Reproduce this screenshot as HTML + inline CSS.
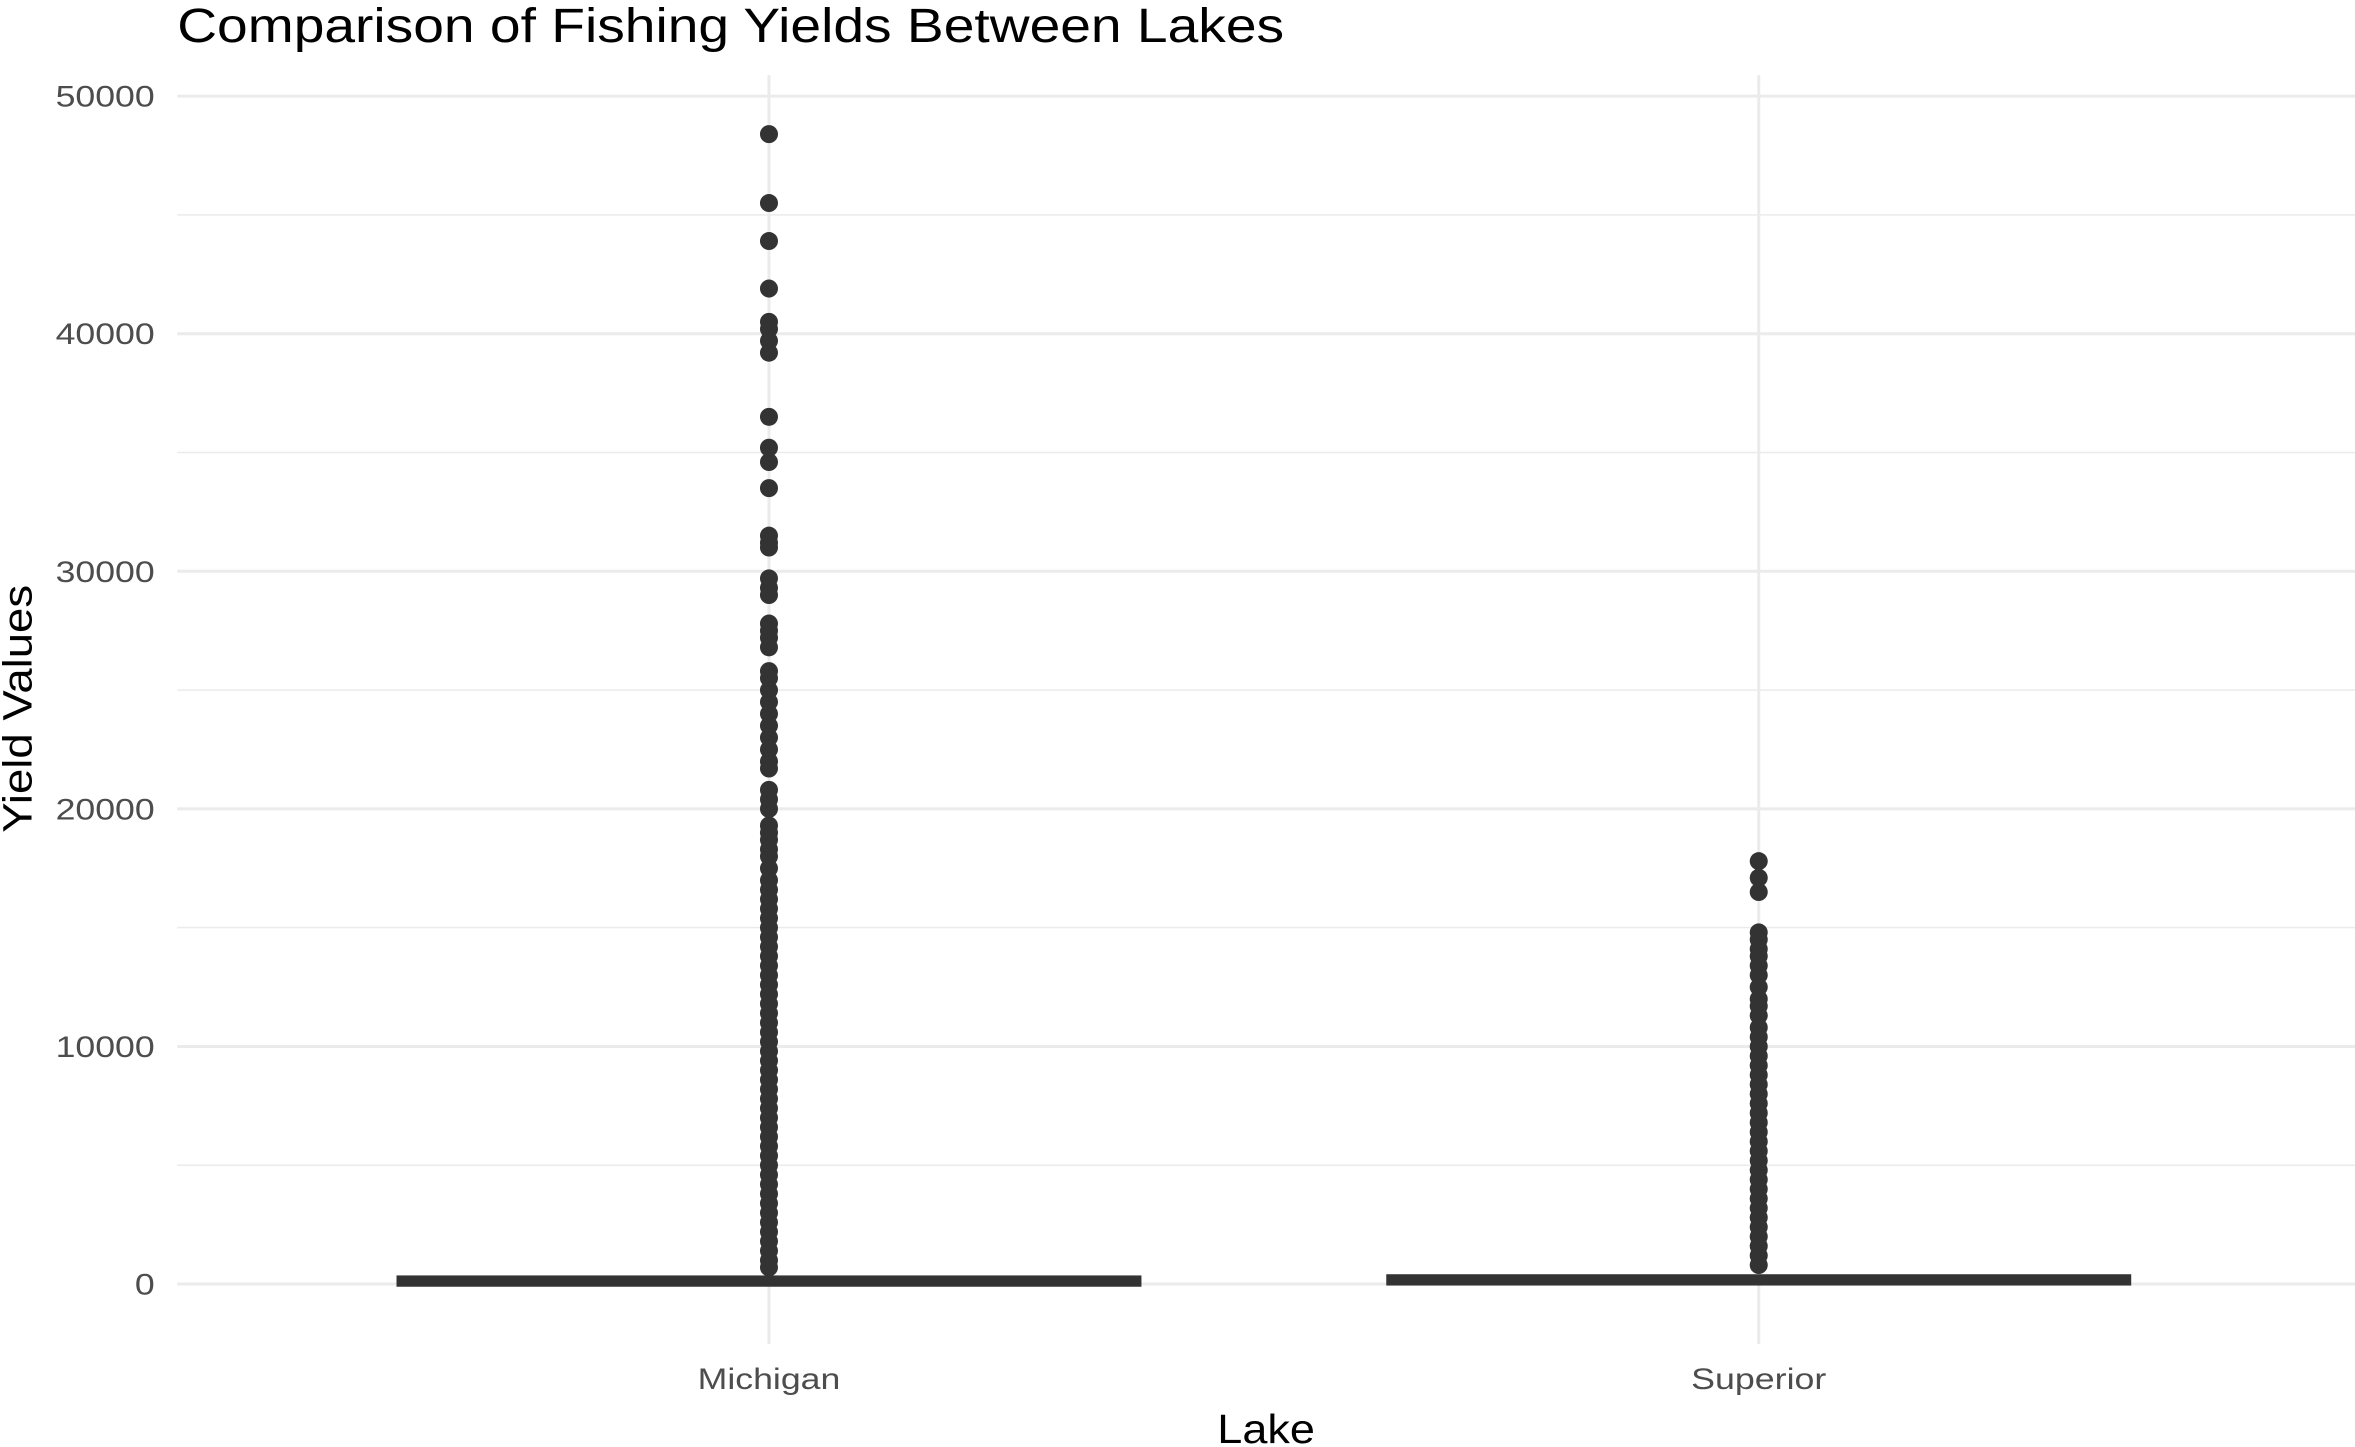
<!DOCTYPE html>
<html><head><meta charset="utf-8"><style>
html,body{margin:0;padding:0;background:#fff;}
svg{display:block;font-family:"Liberation Sans",sans-serif;}
</style></head><body>
<svg id="chart" width="2355" height="1447" viewBox="0 0 1568 963.5" preserveAspectRatio="none" xmlns="http://www.w3.org/2000/svg">
<text x="118" y="28" font-size="32" fill="#000" textLength="737" lengthAdjust="spacingAndGlyphs">Comparison of Fishing Yields Between Lakes</text>
<g id="grid"></g>
<g id="yticks"></g>
<g id="xticks"></g>
<g id="marks"></g>
<text x="843" y="961" font-size="27" text-anchor="middle" fill="#000" textLength="65" lengthAdjust="spacingAndGlyphs">Lake</text>
<text transform="translate(21,472) rotate(-90)" font-size="27" text-anchor="middle" fill="#000" textLength="165" lengthAdjust="spacingAndGlyphs">Yield Values</text>
</svg>
<script>
const categories = ["Michigan", "Superior"];
const q1 = [-50, 0];
const medians = [100, 200];
const q3 = [300, 350];
const yTicks = [0, 10000, 20000, 30000, 40000, 50000];
const michiganOutliers = [48400,45500,43900,41900,40500,40200,39700,39200,36500,35200,34600,33500,31500,31200,31000,29700,29300,29000,27800,27500,27200,26800,25800,25500,25000,24500,24000,23500,23000,22500,22000,21700,20800,20400,20000,19300,19000,18700,18300,18000,17500,17000,16600,16200,15800,15400,15000,14600,14200,13800,13400,13000,12600,12200,11800,11400,11000,10600,10200,9800,9400,9000,8600,8200,7800,7400,7000,6600,6200,5800,5400,5000,4600,4200,3800,3400,3000,2600,2200,1800,1400,1000,700];
const superiorOutliers = [17800,17100,16500,14800,14500,14100,13800,13400,13000,12500,12000,11700,11300,10800,10400,10000,9600,9200,8800,8400,8000,7600,7200,6800,6400,6000,5600,5200,4800,4400,4000,3600,3200,2800,2400,2000,1600,1200,800];
const outliers = [michiganOutliers, superiorOutliers];

const NS = "http://www.w3.org/2000/svg";
const px0 = 118, px1 = 1568;
function y(v){ return 855 - v * (855 - 64) / 50000; }
function x(i){ return 512 + i * (1171 - 512); }
function mk(tag, attrs, parent){
  const e = document.createElementNS(NS, tag);
  for (const k in attrs) e.setAttribute(k, attrs[k]);
  parent.appendChild(e);
  return e;
}
const grid = document.getElementById("grid");
const yt = document.getElementById("yticks");
const xt = document.getElementById("xticks");
const marks = document.getElementById("marks");
for (let i = 0; i < yTicks.length; i++) {
  const v = yTicks[i];
  const l = mk("line", {x1: px0, x2: px1, y1: y(v), y2: y(v), stroke: "#ebebeb", "stroke-width": 2}, grid);
  
  
  if (i < yTicks.length - 1) {
    const m = mk("line", {x1: px0, x2: px1, y1: y(v + 5000), y2: y(v + 5000), stroke: "#ebebeb", "stroke-width": 1}, grid);
    
    
  }
  const s = String(v);
  const t = mk("text", {x: 103, y: y(v) + 7, "font-size": 20, fill: "#4d4d4d", "text-anchor": "end", textLength: s.length * 13.2, lengthAdjust: "spacingAndGlyphs"}, yt);
  t.textContent = s;
  
  
}
const xLen = [95, 90];
categories.forEach((c, i) => {
  const g = mk("line", {x1: x(i), x2: x(i), y1: 50, y2: 895, stroke: "#ebebeb", "stroke-width": 2}, grid);
  
  
  const t = mk("text", {x: x(i), y: 925, "font-size": 20, fill: "#4d4d4d", "text-anchor": "middle", textLength: xLen[i], lengthAdjust: "spacingAndGlyphs"}, xt);
  t.textContent = c;
  
  
  const hw = 247;
  const box = mk("rect", {x: x(i) - hw, y: y(q3[i]), width: 2 * hw, height: Math.max(y(q1[i]) - y(q3[i]), 4), fill: "#333", stroke: "#333", "stroke-width": 2}, marks);
  
  
  const med = mk("line", {x1: x(i) - hw, x2: x(i) + hw, y1: y(medians[i]), y2: y(medians[i]), stroke: "#333", "stroke-width": 3}, marks);
  
  
  outliers[i].forEach(v => {
    const p = mk("ellipse", {cx: x(i), cy: y(v), rx: 6, ry: 6, fill: "#333"}, marks);
    
    
  });
});
</script>
</body></html>
